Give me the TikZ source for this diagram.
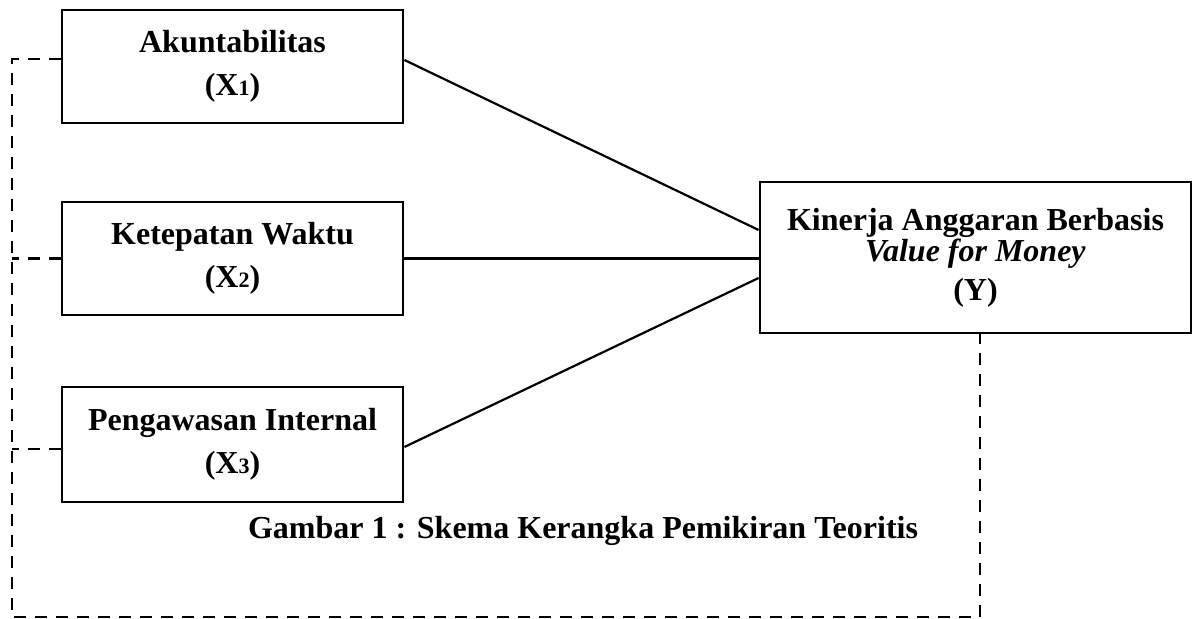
\documentclass[tikz,border=0pt]{standalone}
\usepackage{fontspec}
\setmainfont{Liberation Serif}
\usetikzlibrary{positioning, calc}
\newcommand{\idx}[1]{{\fontsize{11}{11}\selectfont #1}}

\begin{document}
\begin{tikzpicture}[
    x=0.5pt, y=-0.5pt,
    varbox/.style={draw, rectangle, line width=1.4pt, align=center, inner sep=0pt,
        minimum width=170.5pt, font=\fontsize{16}{21.5}\selectfont\bfseries},
    ybox/.style={draw, rectangle, line width=1.4pt, align=center, inner sep=0pt,
        minimum width=215.5pt, minimum height=75.5pt, font=\fontsize{16}{15.5}\selectfont\bfseries},
    link/.style={line width=1.1pt},
    dashlink/.style={line width=1.1pt, dash pattern=on 6pt off 4.5pt}
]
\useasboundingbox (0,0) rectangle (1193,619);

\node[varbox, minimum height=56.5pt] (x1) at (232.5,66.5) {Akuntabilitas\\(X\idx{1})};
\node[varbox, minimum height=56.5pt] (x2) at (232.5,258.5) {Ketepatan Waktu\\(X\idx{2})};
\node[varbox, minimum height=57.5pt] (x3) at (232.5,444.5) {Pengawasan Internal\\(X\idx{3})};
\node[ybox] (yv) at (975.5,257.5) {Kinerja Anggaran Berbasis\\\textit{Value for Money}\\[4pt](Y)};

\node[font=\fontsize{16}{19}\selectfont\bfseries] (cap) at (583,531) {Gambar 1 : Skema Kerangka Pemikiran Teoritis};

\coordinate (cornerl) at (12,617);

\draw[link] ([yshift=3.25pt]x1.east) -- ([yshift=13.75pt]yv.west);
\draw[link] (x2.east) -- (x2.east -| yv.west);
\draw[link] ([yshift=-1.25pt]x3.east) -- ([yshift=-10.25pt]yv.west);

\draw[dashlink] ([yshift=3.75pt]x1.west) -| (cornerl) -| ([xshift=2.25pt]yv.south);
\draw[dashlink] (x2.west) -- (x2.west -| cornerl);
\draw[dashlink] ([yshift=-2.25pt]x3.west) -- ([yshift=-2.25pt]x3.west -| cornerl);

\end{tikzpicture}
\end{document}
